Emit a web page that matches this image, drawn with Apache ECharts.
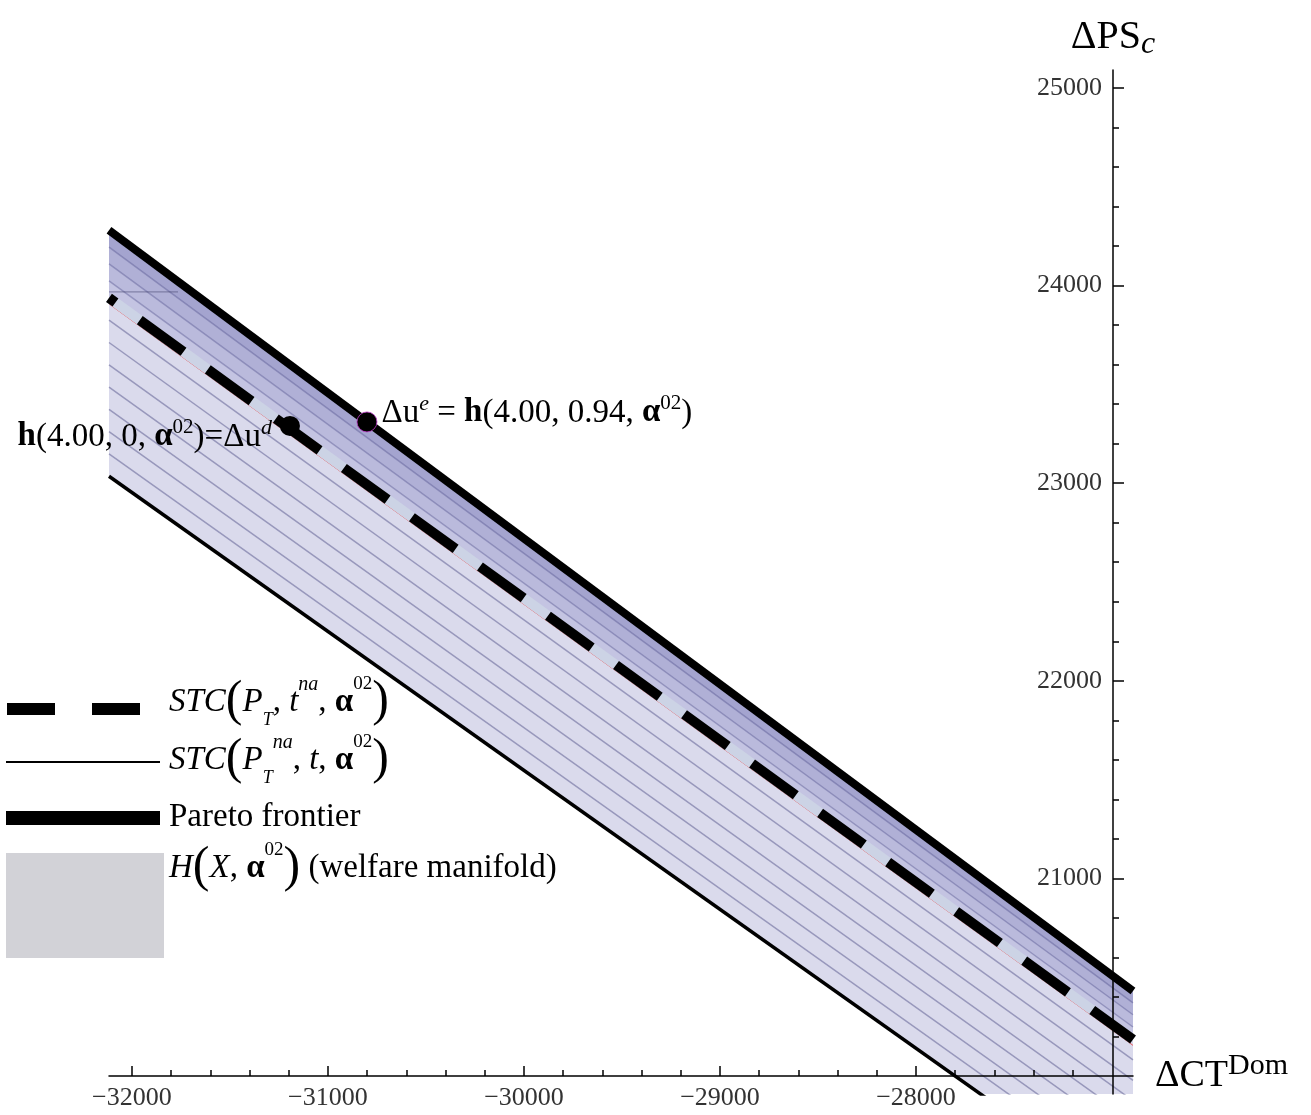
<!DOCTYPE html>
<html>
<head>
<meta charset="utf-8">
<script src="https://cdn.jsdelivr.net/npm/echarts@6/dist/echarts.min.js"></script>
<style>
  html, body { margin: 0; padding: 0; background: #fff; }
  #main { width: 1311px; height: 1115px; }
</style>
</head>
<body>
<div id="main"></div>
<script>
// plot range
var xMin = -32117, xMax = -26893;
var yMin = 19909, yMax = 25091;

// ticks
var xMajorTicks = [-32000, -31000, -30000, -29000, -28000];
var xMinorTicks = [-31800, -31600, -31400, -31200, -30800, -30600, -30400, -30200,
                   -29800, -29600, -29400, -29200, -28800, -28600, -28400, -28200,
                   -27800, -27600, -27400, -27200];
var yMajorTicks = [21000, 22000, 23000, 24000, 25000];
var yMinorTicks = [20200, 20400, 20600, 20800, 21200, 21400, 21600, 21800,
                   22200, 22400, 22600, 22800, 23200, 23400, 23600, 23800,
                   24200, 24400, 24600, 24800];

// lines (end points at the plot edges)
var paretoFrontier = [[-32117, 24280], [-26893, 20430]];
var stcTna = [[-32117, 23938], [-26893, 20185]];          // STC(P_T, t^na, a02), dashed
var stcTnaEdge = [[-32117, 23907], [-26893, 20155]];      // thin red edge under the dashed line
var manifoldBottom = [[-32117, 23035], [-26893, 19362]];
var stub = [[-32117, 23968], [-31765, 23968]];

// STC(P_T^na, t, a02) contours inside the manifold
var lowerContours = [
  [[-32117, 23825], [-26893, 20082]],
  [[-32117, 23712], [-26893, 19978]],
  [[-32117, 23599], [-26893, 19875]],
  [[-32117, 23486], [-26893, 19771]],
  [[-32117, 23374], [-26893, 19668]],
  [[-32117, 23261], [-26893, 19564]],
  [[-32117, 23148], [-26893, 19461]]
];
var upperContours = [
  [[-32117, 24195], [-26893, 20370]],
  [[-32117, 24110], [-26893, 20310]],
  [[-32117, 24024], [-26893, 20248]]
];

// points
var pointUe = [-30801, 23310];
var pointUd = [-31194, 23290];

// filled bands: [lower edge, upper edge]
var bands = [
  [manifoldBottom, paretoFrontier],
  [stcTna, paretoFrontier],
  [upperContours[2], paretoFrontier],
  [upperContours[1], paretoFrontier],
  [upperContours[0], paretoFrontier]
];
var bandColors = ['#dadaec', '#c4c4e2', '#babadc', '#b0b0d6', '#a4a4cf'];

var FONT = 'Liberation Serif';

var myChart = echarts.init(document.getElementById('main'));

function lineSeries(data, color, width, z, type) {
  return {
    type: 'line',
    data: data,
    symbol: 'none',
    silent: true,
    animation: false,
    z: z,
    lineStyle: { color: color, width: width, type: type || 'solid', cap: 'butt' }
  };
}

var labelRich = {
  r:   { fontFamily: FONT, fontSize: 33, color: '#000', lineHeight: 40 },
  b:   { fontFamily: FONT, fontSize: 33, fontWeight: 'bold', color: '#000', lineHeight: 40 },
  sup: { fontFamily: FONT, fontSize: 21, color: '#000', lineHeight: 24, verticalAlign: 'top' },
  supi:{ fontFamily: FONT, fontSize: 22, fontStyle: 'italic', color: '#000', lineHeight: 24, verticalAlign: 'top' }
};

var legendRich = {
  i:   { fontFamily: FONT, fontSize: 33, fontStyle: 'italic', color: '#000', lineHeight: 54 },
  r:   { fontFamily: FONT, fontSize: 33, color: '#000', lineHeight: 54 },
  p:   { fontFamily: FONT, fontSize: 50, color: '#000', lineHeight: 54 },
  ba:  { fontFamily: FONT, fontSize: 33, fontWeight: 'bold', color: '#000', lineHeight: 54 },
  sub: { fontFamily: FONT, fontSize: 18, fontStyle: 'italic', color: '#000', lineHeight: 32, verticalAlign: 'bottom' },
  supi:{ fontFamily: FONT, fontSize: 20, fontStyle: 'italic', color: '#000', lineHeight: 32, verticalAlign: 'top' },
  sup: { fontFamily: FONT, fontSize: 19, color: '#000', lineHeight: 32, verticalAlign: 'top' }
};

var series = [];

// manifold fills
series.push({
  type: 'custom',
  clip: true,
  silent: true,
  animation: false,
  z: 1,
  data: bands.map(function (b, i) { return [i, 0]; }),
  renderItem: function (params, api) {
    var b = bands[params.dataIndex];
    var pts = b[1].map(function (p) { return api.coord(p); });
    var lo = b[0].slice().reverse().map(function (p) { return api.coord(p); });
    return {
      type: 'polygon',
      shape: { points: pts.concat(lo) },
      style: { fill: bandColors[params.dataIndex] }
    };
  }
});

lowerContours.forEach(function (c) {
  series.push(lineSeries(c, 'rgba(85,85,140,0.5)', 1.5, 2));
});
upperContours.forEach(function (c) {
  series.push(lineSeries(c, 'rgba(80,80,140,0.4)', 1.5, 2));
});
series.push(lineSeries(stub, 'rgba(70,70,110,0.6)', 1, 2));
series.push(lineSeries(manifoldBottom, '#000', 3.5, 3));
series.push(lineSeries(paretoFrontier, '#000', 8, 3));
series.push(lineSeries(stcTnaEdge, 'rgba(235,70,70,0.85)', 1, 3));
series.push(lineSeries(stcTna, '#ccd3e5', 10, 3));
var dashed = lineSeries(stcTna, '#000', 10, 4, [54, 30]);
dashed.lineStyle.dashOffset = 46;
series.push(dashed);

series.push({
  type: 'scatter',
  symbolSize: 20,
  z: 6,
  animation: false,
  itemStyle: { color: '#000', opacity: 1 },
  data: [
    {
      value: pointUe,
      itemStyle: { color: '#000', opacity: 1, borderColor: 'rgba(190,60,200,0.8)', borderWidth: 1 },
      label: {
        show: true, position: 'right', distance: 4, offset: [0, -9], color: '#000',
        formatter: '{r|Δu}{supi|e}{r| = }{b|h}{r|(4.00, 0.94, }{b|α}{sup|02}{r|)}',
        rich: labelRich
      }
    },
    {
      value: pointUd,
      label: {
        show: true, position: 'left', distance: 8, offset: [0, 11], color: '#000',
        formatter: '{b|h}{r|(4.00, 0, }{b|α}{sup|02}{r|)=Δu}{supi|d}',
        rich: labelRich
      }
    }
  ]
});

var axisColor = '#000';

myChart.setOption({
  backgroundColor: '#fff',
  animation: false,
  grid: { left: 109, right: 178, top: 70, bottom: 21 },
  xAxis: [
    {
      type: 'value', min: xMin, max: xMax, position: 'bottom', offset: -18, z: 10,
      axisLine: { onZero: false, lineStyle: { color: axisColor, width: 1.5 } },
      axisTick: { inside: true, length: 10, customValues: xMajorTicks, lineStyle: { color: axisColor, width: 1.5 } },
      axisLabel: {
        customValues: xMajorTicks, margin: 9, color: '#333', fontFamily: FONT, fontSize: 26,
        formatter: function (v) { return String(v).replace('-', '\u2212'); }
      },
      splitLine: { show: false },
      name: '{m|ΔCT}{s|Dom}',
      nameLocation: 'end',
      nameGap: 22,
      nameTextStyle: {
        rich: {
          m: { fontFamily: FONT, fontSize: 38, color: '#000', lineHeight: 50 },
          s: { fontFamily: FONT, fontSize: 30, color: '#000', lineHeight: 30, verticalAlign: 'top' }
        }
      }
    },
    {
      type: 'value', min: xMin, max: xMax, position: 'bottom', offset: -18, z: 10,
      axisLine: { show: false, onZero: false },
      axisTick: { inside: true, length: 6, customValues: xMinorTicks, lineStyle: { color: axisColor, width: 1.5 } },
      axisLabel: { show: false },
      splitLine: { show: false }
    }
  ],
  yAxis: [
    {
      type: 'value', min: yMin, max: yMax, position: 'right', offset: -20, z: 10,
      axisLine: { onZero: false, lineStyle: { color: axisColor, width: 1.5 } },
      axisTick: { length: 11, customValues: yMajorTicks, lineStyle: { color: axisColor, width: 1.5 } },
      axisLabel: {
        customValues: yMajorTicks, inside: true, margin: 11, color: '#333', fontFamily: FONT, fontSize: 26,
        formatter: function (v) { return String(v); }
      },
      splitLine: { show: false },
      name: '{m|ΔPS}{s|c}',
      nameLocation: 'end',
      nameGap: 9,
      nameTextStyle: {
        rich: {
          m: { fontFamily: FONT, fontSize: 40, color: '#000', lineHeight: 48 },
          s: { fontFamily: FONT, fontSize: 32, fontStyle: 'italic', color: '#000', lineHeight: 33, verticalAlign: 'bottom' }
        }
      }
    },
    {
      type: 'value', min: yMin, max: yMax, position: 'right', offset: -20, z: 10,
      axisLine: { show: false, onZero: false },
      axisTick: { length: 6, customValues: yMinorTicks, lineStyle: { color: axisColor, width: 1.5 } },
      axisLabel: { show: false },
      splitLine: { show: false }
    }
  ],
  graphic: [
    // legend swatches
    { type: 'rect', shape: { x: 7, y: 703, width: 48, height: 12 }, style: { fill: '#000' } },
    { type: 'rect', shape: { x: 92, y: 703, width: 48, height: 12 }, style: { fill: '#000' } },
    { type: 'line', shape: { x1: 6, y1: 762, x2: 160, y2: 762 }, style: { stroke: '#000', lineWidth: 2 } },
    { type: 'rect', shape: { x: 6, y: 811, width: 154, height: 14 }, style: { fill: '#000' } },
    { type: 'rect', shape: { x: 6, y: 853, width: 158, height: 105 }, style: { fill: '#d2d2d7' } },
    // legend texts
    {
      type: 'text', x: 169, y: 702,
      style: {
        text: '{i|STC}{p|(}{i|P}{sub|T}{r|, }{i|t}{supi|na}{r|, }{ba|α}{sup|02}{p|)}',
        rich: legendRich, align: 'left', verticalAlign: 'middle'
      }
    },
    {
      type: 'text', x: 169, y: 760,
      style: {
        text: '{i|STC}{p|(}{i|P}{sub|T}{supi|na}{r|, }{i|t}{r|, }{ba|α}{sup|02}{p|)}',
        rich: legendRich, align: 'left', verticalAlign: 'middle'
      }
    },
    {
      type: 'text', x: 169, y: 817,
      style: { text: '{r|Pareto frontier}', rich: legendRich, align: 'left', verticalAlign: 'middle' }
    },
    {
      type: 'text', x: 169, y: 868,
      style: {
        text: '{i|H}{p|(}{i|X}{r|, }{ba|α}{sup|02}{p|)}{r| (welfare manifold)}',
        rich: legendRich, align: 'left', verticalAlign: 'middle'
      }
    }
  ],
  series: series
});

window.addEventListener('resize', function () {
  myChart.resize();
});
</script>
</body>
</html>
